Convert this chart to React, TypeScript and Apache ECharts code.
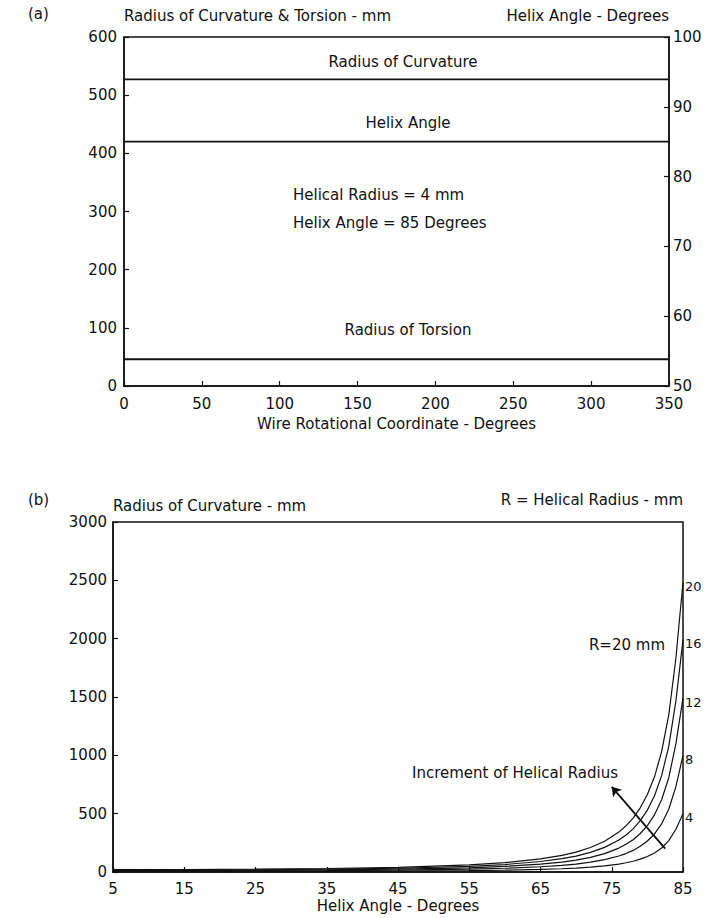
import React, { useEffect, useRef } from "react";
import * as echarts from "echarts";

// ---- Panel (a) data ----
const rotationRange = [0, 350];
const curvatureRadiusA = 527; // mm
const helixAngleA = 85; // degrees (right axis)
const torsionRadiusA = 46; // mm
const xTicksA = [0, 50, 100, 150, 200, 250, 300, 350];

// ---- Panel (b) data ----
const helixAngles = [5, 15, 25, 35, 45, 55, 60, 65, 68, 70, 72, 74, 76, 77, 78, 79, 80, 81, 82, 83, 84, 84.5, 85];
const radiusR4 = [4, 4, 5, 6, 8, 12, 16, 22, 28, 34, 42, 53, 68, 79, 92, 110, 133, 163, 206, 269, 366, 432, 500];
const radiusR8 = [8, 9, 10, 12, 16, 24, 32, 45, 57, 68, 84, 106, 137, 158, 185, 220, 266, 326, 413, 538, 732, 864, 1000];
const radiusR12 = [12, 13, 15, 18, 24, 36, 48, 67, 85, 102, 126, 158, 205, 238, 277, 330, 398, 490, 619, 808, 1098, 1296, 1490];
const radiusR16 = [16, 17, 19, 24, 32, 49, 64, 90, 114, 136, 168, 211, 274, 317, 370, 440, 531, 653, 826, 1077, 1464, 1728, 1990];
const radiusR20 = [20, 21, 24, 30, 40, 61, 80, 112, 142, 170, 210, 264, 342, 396, 462, 550, 664, 816, 1032, 1346, 1830, 2160, 2480];
const helicalRadii = ["4", "8", "12", "16", "20"];
const xTicksB = [5, 15, 25, 35, 45, 55, 65, 75, 85];
const arrowFrom = [75, 730];
const arrowTo = [82.5, 200];

const FONT = "DejaVu Sans";
const INK = "#111";

export default function App() {
  const ref = useRef<HTMLDivElement>(null);
  useEffect(() => {
    document.body.style.margin = "0";
    const chart = echarts.init(ref.current!, null, { renderer: "svg" });
    const curves = [radiusR4, radiusR8, radiusR12, radiusR16, radiusR20];
    const txt = { fontFamily: FONT, fontSize: 15, color: INK };
    const axisCommon = {
      axisLine: { show: true, lineStyle: { color: INK, width: 1.5 } },
      axisTick: { show: true, inside: true, length: 5, lineStyle: { color: INK, width: 1.2 } },
      axisLabel: { ...txt, formatter: (v: number) => String(v) },
      splitLine: { show: false },
    };
    const bSeries = helicalRadii.map((r, i) => ({
      name: r,
      type: "line",
      xAxisIndex: 1,
      yAxisIndex: 2,
      data: helixAngles.map((a, j) => [a, curves[i][j]]),
      showSymbol: false,
      smooth: false,
      lineStyle: { color: INK, width: 1.2 },
      endLabel: { show: true, formatter: "{a}", ...txt, fontSize: 13, distance: 2, offset: [0, 4] },
      ...(i === 0
        ? {
            markLine: {
              silent: true,
              symbol: ["arrow", "none"],
              symbolSize: 9,
              label: { show: false },
              lineStyle: { color: INK, width: 1.8, type: "solid" },
              data: [[{ coord: arrowFrom }, { coord: arrowTo }]],
            },
          }
        : {}),
    }));
    const t = (extra: any) => ({ type: "text", ...extra, style: { font: `15px "${FONT}"`, fill: INK, ...extra.style } });
    chart.setOption({
      animation: false,
      backgroundColor: "#fff",
      grid: [
        { left: 124, right: 38, top: 37, height: 349, show: true, borderColor: INK, borderWidth: 1.5 },
        { left: 113, right: 24, top: 522, height: 350, show: true, borderColor: INK, borderWidth: 1.5 },
      ],
      xAxis: [
        {
          ...axisCommon,
          gridIndex: 0,
          type: "value",
          min: rotationRange[0],
          max: rotationRange[1],
          interval: 50,
          axisLabel: { ...axisCommon.axisLabel, margin: 10, customValues: xTicksA },
          name: "Wire Rotational Coordinate - Degrees",
          nameLocation: "middle",
          nameGap: 30,
          nameTextStyle: txt,
        },
        {
          ...axisCommon,
          gridIndex: 1,
          type: "value",
          min: 5,
          max: 85,
          axisLabel: { ...axisCommon.axisLabel, margin: 9, customValues: xTicksB },
          axisTick: { ...axisCommon.axisTick, customValues: xTicksB },
          name: "Helix Angle - Degrees",
          nameLocation: "middle",
          nameGap: 26,
          nameTextStyle: txt,
        },
      ],
      yAxis: [
        { ...axisCommon, gridIndex: 0, type: "value", min: 0, max: 600, interval: 100, axisLabel: { ...axisCommon.axisLabel, margin: 7 } },
        { ...axisCommon, gridIndex: 0, type: "value", position: "right", min: 50, max: 100, interval: 10, axisLabel: { ...axisCommon.axisLabel, margin: 4 } },
        { ...axisCommon, gridIndex: 1, type: "value", min: 0, max: 3000, interval: 500, axisLabel: { ...axisCommon.axisLabel, margin: 6 } },
      ],
      series: [
        {
          name: "Radius of Curvature",
          type: "line",
          xAxisIndex: 0,
          yAxisIndex: 0,
          data: rotationRange.map((x) => [x, curvatureRadiusA]),
          showSymbol: false,
          lineStyle: { color: INK, width: 1.8 },
        },
        {
          name: "Helix Angle",
          type: "line",
          xAxisIndex: 0,
          yAxisIndex: 1,
          data: rotationRange.map((x) => [x, helixAngleA]),
          showSymbol: false,
          lineStyle: { color: INK, width: 1.8 },
        },
        {
          name: "Radius of Torsion",
          type: "line",
          xAxisIndex: 0,
          yAxisIndex: 0,
          data: rotationRange.map((x) => [x, torsionRadiusA]),
          showSymbol: false,
          lineStyle: { color: INK, width: 1.8 },
        },
        ...bSeries,
      ],
      graphic: [
        t({ left: 28, top: 6, style: { text: "(a)" } }),
        t({ left: 124, top: 8, style: { text: "Radius of Curvature & Torsion - mm" } }),
        t({ right: 38, top: 8, style: { text: "Helix Angle - Degrees" } }),
        t({ x: 403, y: 62, style: { text: "Radius of Curvature", align: "center", verticalAlign: "middle" } }),
        t({ x: 408, y: 123, style: { text: "Helix Angle", align: "center", verticalAlign: "middle" } }),
        t({ x: 293, y: 195, style: { text: "Helical Radius = 4 mm", align: "left", verticalAlign: "middle" } }),
        t({ x: 293, y: 223, style: { text: "Helix Angle = 85 Degrees", align: "left", verticalAlign: "middle" } }),
        t({ x: 408, y: 330, style: { text: "Radius of Torsion", align: "center", verticalAlign: "middle" } }),
        t({ left: 28, top: 492, style: { text: "(b)" } }),
        t({ left: 113, top: 498, style: { text: "Radius of Curvature - mm" } }),
        t({ right: 24, top: 492, style: { text: "R = Helical Radius - mm" } }),
        t({ x: 665, y: 645, style: { text: "R=20 mm", align: "right", verticalAlign: "middle" } }),
        t({ x: 515, y: 773, style: { text: "Increment of Helical Radius", align: "center", verticalAlign: "middle" } }),
      ],
    });
    return () => chart.dispose();
  }, []);
  return <div ref={ref} style={{ width: 707, height: 918 }} />;
}
